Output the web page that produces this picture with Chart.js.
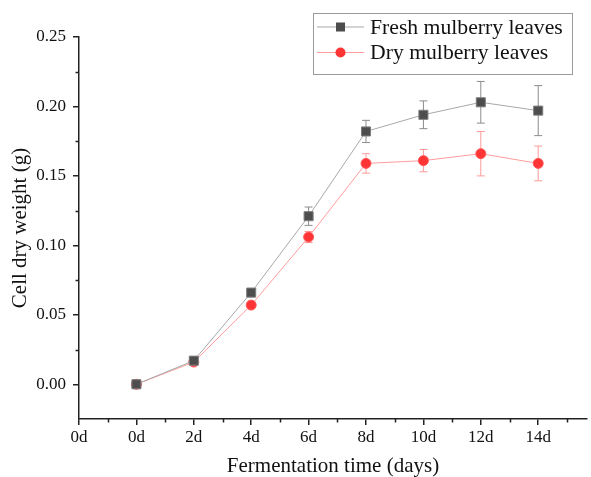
<!DOCTYPE html>
<html>
<head>
<meta charset="utf-8">
<script src="https://cdn.jsdelivr.net/npm/chart.js@4.4.1/dist/chart.umd.min.js"></script>
<style>
html,body{margin:0;padding:0;background:#fff;}
#wrap{width:591px;height:477px;position:relative;}
</style>
</head>
<body>
<div id="wrap"><canvas id="c" width="591" height="477"></canvas></div>
<script>
// ---- data ----
const days = [0, 2, 4, 6, 8, 10, 12, 14];
const freshValues = [0, 0.017, 0.066, 0.121, 0.182, 0.194, 0.203, 0.197];
const freshErrors = [0, 0.001, 0.003, 0.0066, 0.008, 0.010, 0.015, 0.018];
const dryValues = [0, 0.016, 0.057, 0.106, 0.159, 0.161, 0.166, 0.159];
const dryErrors = [0, 0.001, 0.002, 0.004, 0.007, 0.008, 0.016, 0.0125];
const xTickValues = [-2, 0, 2, 4, 6, 8, 10, 12, 14];
const xTickLabels = ["0d", "0d", "2d", "4d", "6d", "8d", "10d", "12d", "14d"];
const yTickValues = [0, 0.05, 0.10, 0.15, 0.20, 0.25];
const xMinorValues = [-1, 1, 3, 5, 7, 9, 11, 13, 15];
const yMinorValues = [0.025, 0.075, 0.125, 0.175, 0.225];
const seriesNames = ["Fresh mulberry leaves", "Dry mulberry leaves"];

const FONT = "'Liberation Serif', 'Times New Roman', serif";
const AXIS = '#222';

const errorBarPlugin = {
  id: 'errorBars',
  beforeDatasetsDraw(chart) {
    const {ctx, scales: {x, y}} = chart;
    chart.data.datasets.forEach((ds) => {
      const errs = ds.errors;
      ctx.save();
      ctx.strokeStyle = ds.errorColor;
      ctx.lineWidth = 1;
      ds.data.forEach((p, i) => {
        const e = errs[i];
        if (!e) return;
        const px = x.getPixelForValue(p.x);
        const top = y.getPixelForValue(p.y + e);
        const bot = y.getPixelForValue(p.y - e);
        ctx.beginPath();
        ctx.moveTo(px, top); ctx.lineTo(px, bot);
        ctx.moveTo(px - 4, top); ctx.lineTo(px + 4, top);
        ctx.moveTo(px - 4, bot); ctx.lineTo(px + 4, bot);
        ctx.stroke();
      });
      ctx.restore();
    });
  }
};

const minorTickPlugin = {
  id: 'minorTicks',
  afterDraw(chart) {
    const {ctx, scales: {x, y}, chartArea} = chart;
    ctx.save();
    ctx.strokeStyle = AXIS;
    ctx.lineWidth = 1.5;
    ctx.beginPath();
    xMinorValues.forEach(v => {
      const px = Math.round(x.getPixelForValue(v)) + 0.5;
      if (px > chartArea.right) return;
      ctx.moveTo(px, chartArea.bottom);
      ctx.lineTo(px, chartArea.bottom + 3.5);
    });
    yMinorValues.forEach(v => {
      const py = Math.round(y.getPixelForValue(v)) + 0.5;
      ctx.moveTo(chartArea.left, py);
      ctx.lineTo(chartArea.left - 3.5, py);
    });
    ctx.stroke();
    ctx.restore();
  }
};

const boxLegendPlugin = {
  id: 'boxLegend',
  afterDraw(chart) {
    const ctx = chart.ctx;
    const bx = 313, by = 13, bw = 259, bh = 61;
    ctx.save();
    ctx.strokeStyle = '#9a9a9a';
    ctx.lineWidth = 1;
    ctx.strokeRect(bx + 0.5, by + 0.5, bw, bh);
    chart.data.datasets.forEach((ds, i) => {
      const cy = by + 14 + i * 25.5;
      ctx.strokeStyle = ds.borderColor;
      ctx.lineWidth = 1;
      ctx.beginPath();
      ctx.moveTo(317, cy); ctx.lineTo(364, cy);
      ctx.stroke();
      ctx.fillStyle = ds.pointBackgroundColor;
      if (ds.pointStyle === 'rect') {
        ctx.fillRect(336, cy - 4.5, 9, 9);
      } else {
        ctx.beginPath();
        ctx.arc(340.5, cy, 5, 0, Math.PI * 2);
        ctx.fill();
      }
      ctx.fillStyle = '#111';
      ctx.font = '21.7px ' + FONT;
      ctx.textBaseline = 'middle';
      ctx.fillText(ds.label, 370, cy + 1);
    });
    ctx.restore();
  }
};

const toPts = (vals) => days.map((d, i) => ({x: d, y: vals[i]}));

new Chart(document.getElementById('c'), {
  type: 'line',
  data: {
    datasets: [
      {
        label: seriesNames[0],
        data: toPts(freshValues),
        errors: freshErrors,
        errorColor: '#8c8c8c',
        borderColor: '#a8a8a8',
        borderWidth: 1,
        pointStyle: 'rect',
        pointRadius: 6.4,
        pointBackgroundColor: '#4d4d4d',
        pointBorderColor: '#7d7d7d',
        pointBorderWidth: 1,
        tension: 0
      },
      {
        label: seriesNames[1],
        data: toPts(dryValues),
        errors: dryErrors,
        errorColor: '#ff9a9a',
        borderColor: '#ff9c9c',
        borderWidth: 1,
        pointStyle: 'circle',
        pointRadius: 5,
        pointBackgroundColor: '#ff3535',
        pointBorderColor: '#ff5a5a',
        pointBorderWidth: 1,
        tension: 0
      }
    ]
  },
  options: {
    responsive: false,
    animation: false,
    layout: {autoPadding: false, padding: {top: 37, right: 4, left: 0, bottom: 0}},
    plugins: {legend: {display: false}, tooltip: {enabled: false}},
    scales: {
      x: {
        type: 'linear',
        min: -2,
        max: 15.7,
        afterBuildTicks: (s) => { s.ticks = xTickValues.map(v => ({value: v})); },
        afterFit: (s) => { s.height = 58; s.paddingRight = 0; s.paddingLeft = 0; },
        grid: {drawOnChartArea: false, drawTicks: true, tickLength: 6, color: AXIS, lineWidth: 1.5},
        border: {display: true, color: AXIS, width: 1.5},
        ticks: {
          color: '#111',
          font: {family: FONT, size: 17},
          padding: 2,
          maxRotation: 0,
          autoSkip: false,
          callback: (v) => {
            const i = xTickValues.indexOf(v);
            return i >= 0 ? xTickLabels[i] : '';
          }
        },
        title: {
          display: true,
          text: 'Fermentation time (days)',
          color: '#111',
          font: {family: FONT, size: 21, lineHeight: 1.0},
          padding: {top: 0, bottom: 0}
        }
      },
      y: {
        type: 'linear',
        min: -0.025,
        max: 0.25,
        afterBuildTicks: (s) => { s.ticks = yTickValues.map(v => ({value: v})); },
        afterFit: (s) => { s.width = 79; },
        grid: {drawOnChartArea: false, drawTicks: true, tickLength: 6, color: AXIS, lineWidth: 1.5},
        border: {display: true, color: AXIS, width: 1.5},
        ticks: {
          color: '#111',
          font: {family: FONT, size: 17},
          padding: 7,
          callback: (v) => v.toFixed(2)
        },
        title: {
          display: true,
          text: 'Cell dry weight (g)',
          color: '#111',
          font: {family: FONT, size: 21, lineHeight: 1.0},
          padding: {top: 10, bottom: 0}
        }
      }
    }
  },
  plugins: [errorBarPlugin, minorTickPlugin, boxLegendPlugin]
});
</script>
</body>
</html>
